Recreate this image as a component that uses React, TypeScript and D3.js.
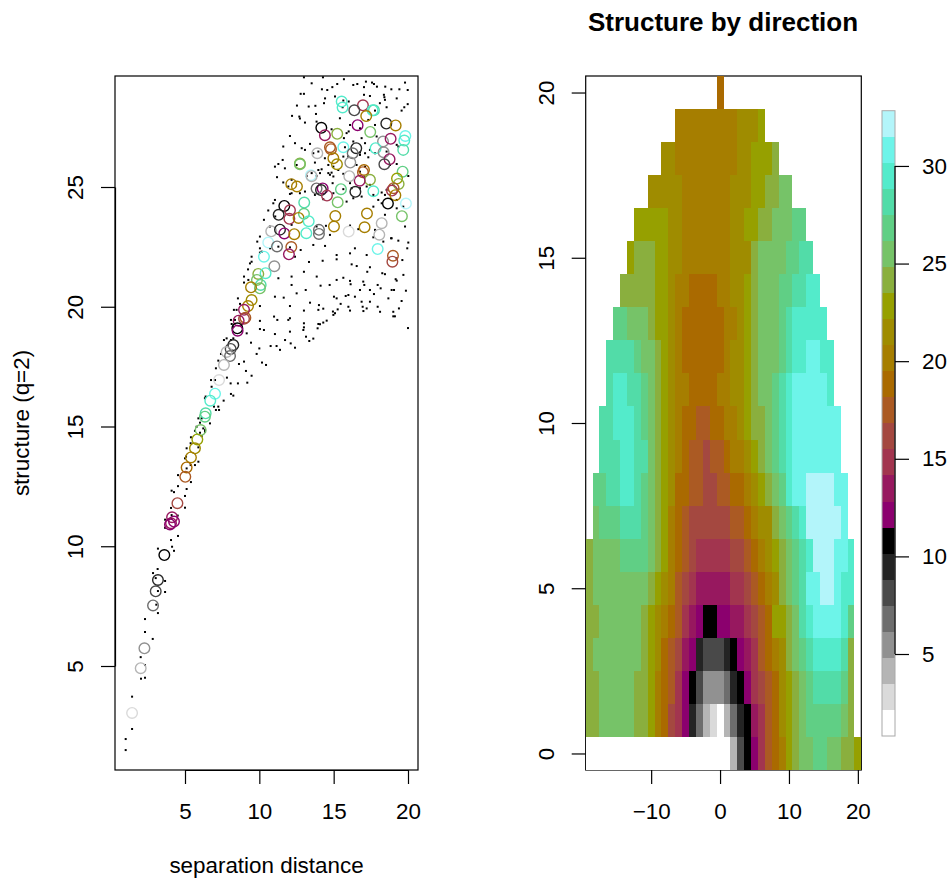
import { useEffect, useRef } from 'react';
import * as d3 from 'd3';

const W = 949;
const H = 878;

// colour levels of the map, lowest first
const levels = 'abcdefghijklmnopqrstuvwx'.split('');
const palette = [
  '#FFFFFF', '#DADADA', '#B5B5B5', '#919191', '#6D6D6D', '#494949', '#242424', '#000000',
  '#8B006E', '#97185F', '#A2354F', '#A44840', '#AB5A23', '#AA6A00', '#A67E00', '#9F8C00',
  '#96A000', '#8AAF3E', '#76C368', '#60CF85', '#52DCA8', '#53EBCB', '#6DF4E9', '#B3F5FA',
];
const levelRange = [0.8, 32.83];

const mapX = d3.range(-19, 21);
const mapY = d3.range(20, -1, -1);
// one row per lag in y (20 down to 0), one letter per lag in x, '.' = no data
const mapRows = [
  '...................n....................',
  '.............ooooooooopppq..............',
  '...........ppoooooooooppqqqr............',
  '.........pppppooooooopppqqrrss..........',
  '.......qqqqqppoooooooppqqrrssstt........',
  '......qrrrqqppoooooooppprssssttuu.......',
  '.....rrrrrqqpoonnnnooppqrsssttuuvv......',
  '....ttsssrqqponnnnnnoopqrssstuvvvvv.....',
  '...uuuutssrqponnnnnnoppqrssstuvvwwvv....',
  '...uvvuutsrqpoonnnnooppqrsstuvwwwwwv....',
  '..uuvvvutsrqponnmmnnoopqrrstuvwwwwwww...',
  '..uuuvvuusrqponmmlmmnoopqrstuvwwwwwww...',
  '.ttuuvvutsrqpnnmmllmmnnopqrstvwwxxxxww..',
  '.stttuuutsrqonmllllllmmnopprstuvxxxxxw..',
  'rssssttttsrqonmlkkkkkllmnopqrstuvxxxwwv.',
  'rssssssssrqpomlkjjjjjkklmnoprstuwwxxwvv.',
  'rrssssssrqponmkjihhiijjklmnqqrsuvwwwwvt.',
  'rsssssssrqpnmljigfffghijkmnoprstuvvvvur.',
  'rrsssssrrqonmkihfdddeghiklmnpqrstuuuutr.',
  'rrsssssrrqonlkigecbaceghjkmnpqrstttttsr.',
  'aaaaaaaaaaaaaaaaaaaaacfhikmnoqrssttssrrq',
];

// pairs of separation distance, structure
const cloudPoints: [number, number][] = [
  [13.0, 29.58], [14.28, 29.58], [15.69, 29.5], [13.52, 29.33], [16.59, 29.3], [17.17, 29.4], [17.58, 29.36], [17.71, 29.3],
  [17.91, 29.19], [19.8, 29.36], [16.32, 29.26], [15.24, 29.3], [14.91, 29.17], [14.57, 29.05], [17.04, 29.17], [18.47, 29.19],
  [18.88, 29.08], [19.42, 29.08], [19.98, 29.05], [14.21, 29.08], [12.78, 28.89], [13.0, 28.89], [14.42, 28.7], [15.09, 28.78],
  [17.04, 28.85], [17.44, 28.8], [18.38, 28.85], [18.41, 28.75], [19.24, 28.7], [18.45, 28.64], [12.53, 28.4], [13.32, 28.36],
  [13.77, 28.39], [14.35, 28.5], [15.65, 28.61], [16.01, 28.57], [18.11, 28.5], [18.56, 28.33], [19.98, 28.46], [19.75, 28.33],
  [19.57, 28.19], [15.6, 28.33], [17.78, 28.19], [12.2, 27.97], [12.69, 27.94], [12.73, 27.86], [13.81, 28.05], [13.07, 27.69],
  [13.85, 27.73], [17.33, 27.8], [17.78, 27.59], [14.86, 27.41], [15.42, 27.87], [12.06, 27.13], [12.4, 26.83], [12.85, 26.62],
  [13.07, 26.55], [13.41, 26.8], [11.61, 26.69], [16.1, 27.59], [16.77, 27.45], [15.69, 27.04], [15.87, 27.25], [16.01, 27.32],
  [16.32, 26.9], [16.88, 27.04], [17.11, 26.83], [17.89, 27.11], [17.44, 26.55], [17.11, 26.41], [15.76, 26.66], [13.97, 26.48],
  [13.63, 26.41], [11.57, 26.13], [11.28, 25.96], [11.05, 25.85], [11.72, 25.78], [12.51, 25.92], [13.74, 26.02], [14.41, 26.2],
  [14.64, 25.92], [14.98, 25.85], [15.65, 26.27], [15.98, 26.27], [16.77, 26.44], [16.77, 26.34], [17.33, 26.24], [17.78, 26.41],
  [18.56, 26.48], [19.24, 26.76], [19.35, 26.69], [19.24, 25.96], [18.79, 25.92], [20.02, 25.46], [15.31, 25.71], [14.64, 25.58],
  [14.19, 25.74], [13.97, 25.71], [14.08, 25.58], [13.85, 25.46], [13.52, 25.58], [13.18, 25.46], [14.75, 25.51], [14.98, 25.44],
  [14.86, 25.6], [15.65, 25.55], [16.54, 25.92], [17.11, 25.85], [16.77, 25.64], [17.11, 25.41], [17.22, 25.02], [17.44, 25.09],
  [18.23, 24.77], [18.56, 24.88], [18.45, 24.67], [17.67, 24.67], [18.0, 24.46], [19.01, 25.09], [11.19, 25.41], [11.61, 25.19],
  [12.17, 25.3], [11.95, 25.02], [12.17, 24.74], [12.06, 24.71], [12.73, 24.74], [13.07, 24.81], [13.74, 24.67], [14.3, 24.49],
  [14.93, 25.16], [16.1, 25.16], [14.98, 24.74], [15.65, 24.91], [16.21, 24.95], [16.77, 24.95], [16.32, 24.53], [15.87, 24.39],
  [16.88, 24.6], [17.67, 24.18], [18.79, 24.67], [19.24, 24.46], [19.68, 24.18], [18.23, 24.32], [11.05, 24.46], [10.6, 24.02],
  [10.31, 23.63], [10.04, 22.93], [10.94, 24.32], [11.07, 23.77], [12.17, 23.42], [10.71, 23.35], [13.85, 23.35], [14.48, 23.38],
  [14.75, 23.0], [16.1, 23.39], [16.66, 23.24], [17.78, 23.21], [18.45, 23.84], [19.24, 24.11], [19.8, 23.35], [18.9, 22.86],
  [9.86, 22.72], [10.04, 22.44], [10.04, 22.26], [10.16, 22.3], [9.48, 22.09], [9.48, 21.88], [9.37, 21.81], [10.72, 22.44],
  [11.28, 22.51], [12.06, 22.48], [12.78, 22.37], [13.63, 22.58], [14.42, 22.54], [16.43, 22.44], [18.34, 22.72], [19.35, 22.76],
  [20.02, 22.68], [19.95, 22.44], [18.86, 22.86], [17.67, 22.9], [15.2, 22.16], [16.1, 22.23], [17.22, 22.16], [13.34, 21.87],
  [14.26, 21.92], [12.4, 22.09], [15.2, 21.98], [16.21, 21.77], [16.55, 21.7], [17.44, 21.65], [17.26, 21.46], [18.27, 21.4],
  [18.45, 21.36], [19.17, 21.15], [19.24, 21.09], [19.69, 21.33], [19.62, 21.95], [19.24, 22.02], [13.0, 21.46], [9.24, 21.56],
  [8.97, 21.26], [8.97, 21.01], [9.26, 21.12], [11.28, 21.19], [12.17, 21.26], [13.86, 21.26], [14.73, 20.91], [15.2, 21.12],
  [15.65, 21.21], [16.1, 21.08], [16.14, 20.94], [16.99, 21.05], [17.06, 20.91], [17.96, 20.91], [18.16, 20.77], [18.9, 20.7],
  [19.06, 20.7], [19.86, 20.67], [12.17, 20.91], [14.12, 20.88], [16.77, 20.7], [17.44, 20.7], [12.51, 20.56], [13.12, 20.7],
  [15.99, 20.49], [15.81, 20.45], [16.43, 20.42], [17.71, 20.53], [18.68, 20.35], [19.57, 20.24], [17.44, 20.21], [16.88, 20.21],
  [11.05, 20.42], [11.64, 20.38], [15.02, 20.42], [15.2, 20.35], [8.56, 20.35], [8.7, 20.12], [8.47, 19.87], [8.29, 19.87],
  [10.04, 20.03], [12.06, 20.03], [13.41, 20.17], [14.01, 20.07], [15.47, 20.12], [13.97, 19.87], [14.3, 19.92], [13.0, 19.84],
  [14.95, 19.8], [15.27, 19.89], [15.99, 20.0], [16.1, 19.84], [16.95, 20.0], [17.22, 19.93], [17.96, 20.0], [18.12, 19.79],
  [17.0, 19.82], [19.01, 19.79], [19.39, 19.93], [10.99, 19.59], [11.21, 19.45], [12.06, 19.52], [11.95, 19.45], [14.3, 19.34],
  [14.53, 19.42], [14.08, 19.27], [13.97, 19.28], [13.0, 19.31], [13.0, 19.14], [12.96, 19.03], [13.92, 19.1], [14.98, 19.66],
  [15.09, 19.73], [19.01, 19.6], [19.12, 19.6], [20.0, 19.11], [8.09, 19.45], [8.36, 19.45], [8.14, 19.28], [8.25, 19.17],
  [10.04, 19.41], [10.04, 19.07], [10.31, 19.03], [12.06, 18.96], [11.05, 18.86], [9.15, 18.89], [7.62, 18.61], [7.8, 18.68],
  [8.09, 18.61], [8.25, 18.68], [11.73, 18.61], [13.14, 18.75], [13.63, 18.67], [13.36, 18.57], [12.11, 18.47], [9.44, 18.5],
  [10.76, 18.36], [11.16, 18.36], [11.39, 18.2], [12.4, 18.29], [10.0, 18.26], [9.82, 18.03], [7.42, 18.03], [7.24, 17.75],
  [7.08, 17.43], [10.18, 17.67], [10.45, 17.57], [8.63, 17.61], [8.97, 17.71], [9.1, 17.32], [9.48, 17.12], [9.19, 16.83],
  [8.56, 16.8], [8.07, 16.8], [7.82, 17.04], [7.02, 16.94], [6.79, 16.66], [6.75, 16.94], [8.09, 16.36], [8.25, 16.29],
  [7.6, 16.08], [6.39, 16.25], [6.34, 16.18], [7.24, 15.83], [7.08, 15.69], [7.29, 15.69], [6.95, 15.83], [6.68, 15.13],
  [6.12, 15.34], [5.9, 15.34], [6.01, 15.16], [5.78, 14.99], [6.23, 14.92], [6.35, 14.85], [6.35, 14.78], [5.67, 14.82],
  [6.01, 14.74], [6.12, 14.6], [5.4, 14.55], [5.38, 14.3], [5.9, 14.13], [5.11, 14.09], [5.07, 13.74], [5.0, 13.67],
  [5.9, 13.53], [5.67, 13.39], [5.38, 13.39], [5.11, 13.25], [4.53, 12.97], [5.4, 12.68], [4.53, 12.51], [5.11, 12.39],
  [4.1, 12.32], [4.26, 12.26], [5.0, 12.1], [5.0, 11.61], [4.06, 11.6], [4.1, 11.3], [4.51, 11.28], [3.66, 11.11],
  [4.1, 11.14], [3.66, 10.77], [4.53, 10.43], [4.06, 10.26], [4.13, 9.98], [4.26, 9.81], [3.18, 9.9], [3.16, 9.05],
  [2.85, 8.88], [3.03, 8.67], [3.66, 8.55], [3.18, 8.13], [3.66, 8.09], [3.07, 7.56], [3.18, 7.21], [2.31, 6.96],
  [2.31, 6.42], [2.83, 6.13], [2.02, 5.37], [2.31, 5.04], [2.31, 4.51], [2.04, 4.47], [1.44, 3.72], [1.44, 2.37],
  [1.01, 1.95], [1.01, 1.49],
];

// separation distance, structure, colour level
const ringPoints: [number, number, string][] = [
  [15.54, 28.57, 'v'], [15.6, 28.32, 'v'], [16.97, 28.41, 'k'], [16.39, 28.2, 'f'], [17.71, 28.2, 'u'], [17.62, 28.2, 'v'],
  [17.19, 27.96, 'o'], [16.61, 27.58, 'i'], [18.54, 27.65, 'g'], [19.17, 27.57, 'o'], [14.17, 27.47, 'h'], [14.41, 27.16, 'j'],
  [15.24, 27.22, 'r'], [17.46, 27.3, 's'], [19.82, 27.13, 'w'], [18.32, 26.9, 'd'], [18.83, 27.01, 'j'], [19.75, 26.94, 'v'],
  [14.75, 26.66, 'm'], [14.82, 26.58, 'm'], [15.65, 26.66, 'w'], [16.52, 26.62, 'g'], [17.82, 26.62, 'v'], [19.68, 26.55, 'u'],
  [18.36, 26.45, 'd'], [16.28, 26.41, 'e'], [13.9, 26.41, 'c'], [14.98, 26.2, 'o'], [18.76, 26.16, 'j'], [16.12, 26.02, 'd'],
  [18.41, 25.95, 'f'], [15.22, 25.95, 'p'], [12.73, 25.98, 'r'], [12.73, 25.95, 's'], [19.64, 25.64, 't'], [17.04, 25.71, 'n'],
  [16.97, 25.62, 'm'], [17.44, 25.3, 'r'], [16.75, 25.26, 'j'], [13.47, 25.49, 'x'], [13.52, 25.45, 'c'], [16.05, 25.45, 'c'],
  [19.26, 25.35, 'q'], [19.37, 25.13, 'r'], [12.15, 25.12, 'o'], [12.53, 25.02, 'o'], [19.03, 24.95, 'm'], [18.92, 24.85, 'k'],
  [19.15, 24.66, 'o'], [14.26, 24.94, 'i'], [13.85, 24.94, 'e'], [14.15, 24.87, 'g'], [15.49, 24.91, 't'], [16.46, 24.8, 'g'],
  [17.67, 24.82, 'v'], [14.55, 24.64, 'k'], [15.27, 24.36, 's'], [18.65, 24.31, 'h'], [19.86, 24.31, 'x'], [13.02, 24.35, 'u'],
  [13.0, 23.88, 't'], [11.68, 24.21, 'h'], [12.06, 24.03, 'k'], [11.3, 23.84, 'g'], [12.02, 23.67, 'k'], [12.64, 23.71, 'o'],
  [13.32, 23.57, 'v'], [15.11, 23.79, 'o'], [17.24, 23.89, 'o'], [19.59, 23.78, 's'], [10.8, 23.15, 'c'], [11.39, 23.22, 'g'],
  [11.68, 23.06, 'i'], [12.35, 23.03, 'o'], [13.16, 23.07, 'v'], [14.01, 23.21, 'e'], [14.01, 23.04, 'e'], [15.02, 23.35, 'o'],
  [17.08, 23.32, 'o'], [18.23, 23.49, 'c'], [16.01, 23.14, 'b'], [18.07, 23.01, 'c'], [10.6, 22.68, 'x'], [11.19, 22.52, 'e'],
  [12.15, 22.49, 'm'], [11.99, 22.19, 'j'], [10.31, 22.09, 'w'], [17.96, 22.41, 'w'], [18.99, 22.13, 'm'], [18.95, 21.88, 'l'],
  [11.01, 21.69, 'd'], [9.93, 21.37, 'r'], [10.42, 21.4, 'v'], [10.09, 20.91, 'u'], [10.04, 20.77, 's'], [9.84, 21.12, 's'],
  [9.44, 20.81, 'o'], [9.48, 20.28, 'p'], [9.24, 20.03, 'o'], [8.97, 19.87, 'j'], [9.06, 19.54, 'm'], [8.97, 19.5, 'l'],
  [8.61, 19.42, 'j'], [8.52, 19.1, 'h'], [8.54, 19.0, 'i'], [8.25, 18.4, 'g'], [8.07, 18.24, 'f'], [7.8, 18.11, 'c'],
  [8.03, 17.94, 'e'], [7.62, 17.57, 'c'], [7.29, 16.94, 'b'], [7.02, 16.37, 'w'], [6.7, 16.08, 'v'], [6.39, 15.55, 'u'],
  [6.34, 15.41, 't'], [6.05, 14.85, 's'], [5.83, 14.46, 'q'], [5.67, 14.09, 'p'], [5.4, 13.71, 'o'], [5.11, 13.29, 'n'],
  [5.02, 12.9, 'm'], [4.49, 11.8, 'l'], [4.13, 11.21, 'j'], [4.26, 11.03, 'i'], [4.06, 10.96, 'j'], [3.99, 10.91, 'i'],
  [3.61, 9.63, 'h'], [3.18, 8.59, 'g'], [3.03, 8.12, 'f'], [2.85, 7.53, 'e'], [2.27, 5.74, 'd'], [2.02, 4.91, 'c'],
  [1.44, 3.04, 'b'],
];

const scatterXTicks = [5, 10, 15, 20];
const scatterYTicks = [5, 10, 15, 20, 25];
const mapXTicks = [-10, 0, 10, 20];
const mapYTicks = [0, 5, 10, 15, 20];
const legendTicks = [5, 10, 15, 20, 25, 30];

const font = '"Liberation Sans", Arial, sans-serif';
const fontSize = 22.4;
const tick = 14;

const scatterBox = { left: 115, right: 418, top: 76, bottom: 770 };
const mapBox = { left: 585.7, right: 861.3, top: 76, bottom: 770 };
const legendBox = { left: 882, right: 895, top: 110.7, bottom: 736 };

const colour = d3.scaleOrdinal<string, string>().domain(levels).range(palette);

const styleAxis = (g: any) => {
  g.selectAll('path, line').attr('stroke', '#000').attr('stroke-width', 1.2);
  g.selectAll('text').attr('fill', '#000').style('font-family', font).style('font-size', `${fontSize}px`);
};

const rotateLabels = (g: any, dx: number) => {
  g.selectAll('text')
    .attr('text-anchor', 'middle')
    .attr('x', null)
    .attr('dy', null)
    .attr('transform', `translate(${dx}, 0) rotate(-90)`);
};

const App = () => {
  const ref = useRef<SVGSVGElement>(null);

  useEffect(() => {
    const svg = d3.select(ref.current);
    svg.selectAll('*').remove();

    // left panel
    const sx = d3.scaleLinear().domain([5, 20]).range([185, 408]);
    const sy = d3.scaleLinear().domain([5, 25]).range([666, 187]);

    svg.append('rect')
      .attr('x', scatterBox.left).attr('y', scatterBox.top)
      .attr('width', scatterBox.right - scatterBox.left).attr('height', scatterBox.bottom - scatterBox.top)
      .attr('fill', 'none').attr('stroke', '#000').attr('stroke-width', 1.2);

    svg.append('g').selectAll('rect').data(cloudPoints).enter().append('rect')
      .attr('x', (d) => sx(d[0]) - 1).attr('y', (d) => sy(d[1]) - 1)
      .attr('width', 2).attr('height', 2).attr('fill', '#000');

    svg.append('g').selectAll('circle').data(ringPoints).enter().append('circle')
      .attr('cx', (d) => sx(d[0])).attr('cy', (d) => sy(d[1])).attr('r', 5.3)
      .attr('fill', 'none').attr('stroke-width', 1.4).attr('stroke', (d) => colour(d[2]));

    svg.append('g').attr('transform', `translate(0, ${scatterBox.bottom})`)
      .call(d3.axisBottom(sx).tickValues(scatterXTicks).tickSize(tick).tickPadding(19).tickSizeOuter(0).tickFormat(d3.format('d')))
      .call(styleAxis);
    svg.append('g').attr('transform', `translate(${scatterBox.left}, 0)`)
      .call(d3.axisLeft(sy).tickValues(scatterYTicks).tickSize(tick).tickSizeOuter(0).tickFormat(d3.format('d')))
      .call(styleAxis).call(rotateLabels, -32);

    // right panel, the box sits under the cells
    const mx = d3.scaleLinear().domain([-19.5, 20.5]).range([mapBox.left, mapBox.right]);
    const my = d3.scaleLinear().domain([-0.5, 20.5]).range([mapBox.bottom, mapBox.top]);

    svg.append('rect')
      .attr('x', mapBox.left).attr('y', mapBox.top)
      .attr('width', mapBox.right - mapBox.left).attr('height', mapBox.bottom - mapBox.top)
      .attr('fill', 'none').attr('stroke', '#000').attr('stroke-width', 1.2);

    const cells = mapRows.flatMap((row, i) =>
      row.split('').map((level, j) => ({ x: mapX[j], y: mapY[i], level }))
    ).filter((c) => c.level !== '.');

    svg.append('g').attr('shape-rendering', 'crispEdges')
      .selectAll('rect').data(cells).enter().append('rect')
      .attr('x', (d) => mx(d.x - 0.5)).attr('y', (d) => my(d.y + 0.5))
      .attr('width', mx(1) - mx(0)).attr('height', my(0) - my(1))
      .attr('fill', (d) => colour(d.level));

    svg.append('g').attr('transform', `translate(0, ${mapBox.bottom})`)
      .call(d3.axisBottom(mx).tickValues(mapXTicks).tickSize(tick).tickPadding(19).tickSizeOuter(0).tickFormat(d3.format('d')))
      .call((g: any) => g.select('.domain').remove())
      .call(styleAxis);
    svg.append('g').attr('transform', `translate(${mapBox.left}, 0)`)
      .call(d3.axisLeft(my).tickValues(mapYTicks).tickSize(tick).tickSizeOuter(0).tickFormat(d3.format('d')))
      .call((g: any) => g.select('.domain').remove())
      .call(styleAxis).call(rotateLabels, -32);

    // colour bar
    const band = d3.scaleBand<string>().domain(levels).range([legendBox.bottom, legendBox.top]);
    const lv = d3.scaleLinear().domain(levelRange).range([legendBox.bottom, legendBox.top]);

    svg.append('g').attr('shape-rendering', 'crispEdges')
      .selectAll('rect').data(levels).enter().append('rect')
      .attr('x', legendBox.left).attr('y', (d) => band(d) as number)
      .attr('width', legendBox.right - legendBox.left).attr('height', band.bandwidth())
      .attr('fill', (d) => colour(d));
    svg.append('rect')
      .attr('x', legendBox.left).attr('y', legendBox.top)
      .attr('width', legendBox.right - legendBox.left).attr('height', legendBox.bottom - legendBox.top)
      .attr('fill', 'none').attr('stroke', '#a8a8a8');
    svg.append('g').attr('transform', `translate(${legendBox.right}, 0)`)
      .call(d3.axisRight(lv).tickValues(legendTicks).tickSize(tick).tickPadding(13).tickSizeOuter(0).tickFormat(d3.format('d')))
      .call((g: any) => g.select('.domain').attr('d', `M0,${lv(30)}V${lv(5)}`).attr('fill', 'none'))
      .call(styleAxis);

    // titles
    const label = (text: string, x: number, y: number, rotate = 0, size = fontSize, weight = 'normal') =>
      svg.append('text')
        .attr('transform', `translate(${x}, ${y}) rotate(${rotate})`)
        .attr('text-anchor', 'middle')
        .style('font-family', font).style('font-size', `${size}px`).style('font-weight', weight)
        .text(text);

    label('separation distance', 266.5, 873);
    label('structure (q=2)', 29, 423, -90);
    label('Structure by direction', 723, 31, 0, 26, 'bold');
  }, []);

  return (
    <svg
      ref={ref}
      width={W}
      height={H}
      style={{ position: 'absolute', left: 0, top: 0, background: 'white' }}
    />
  );
};

export default App;
